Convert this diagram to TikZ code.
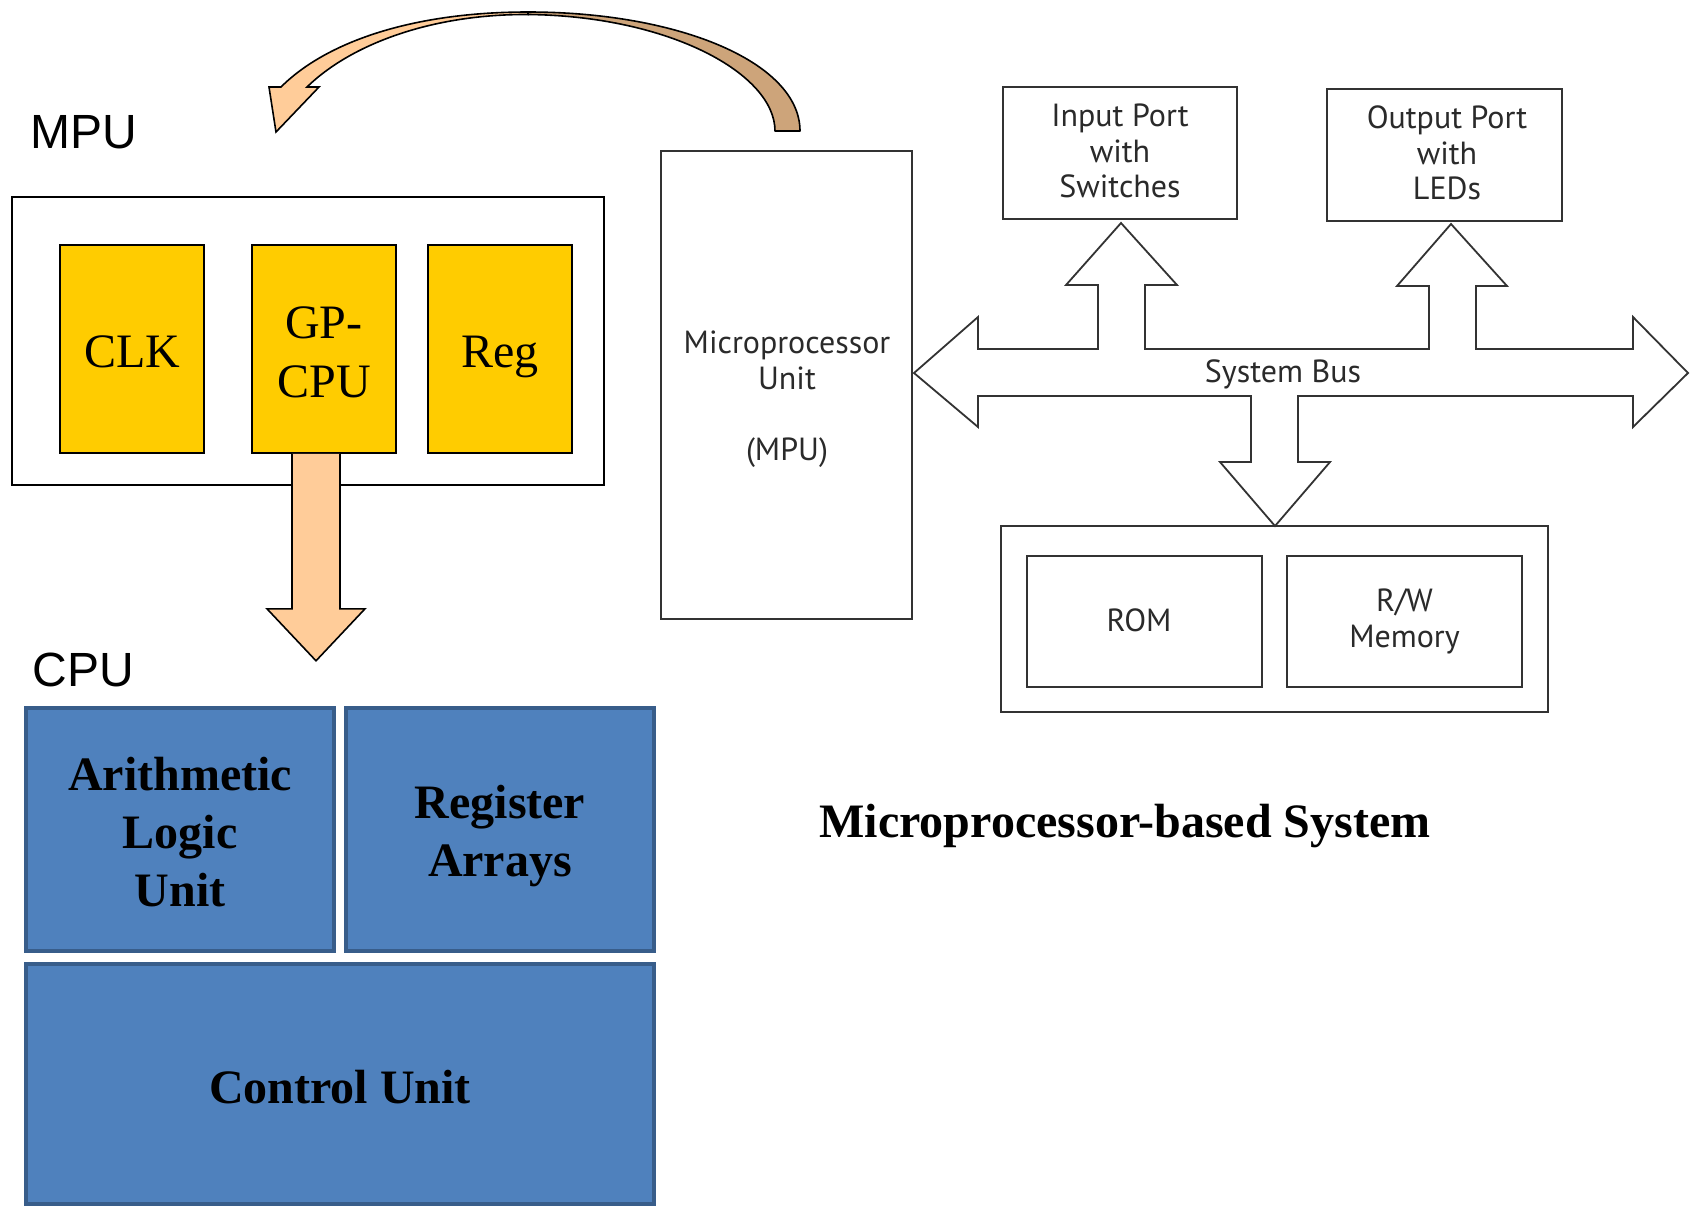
\documentclass[tikz,border=0pt]{standalone}
\usepackage{fontspec}
\setmainfont{Liberation Serif}
\newfontfamily\arialf{Liberation Sans}
\newfontfamily\myriad{PT Sans}
\usetikzlibrary{calc}
\definecolor{gold}{HTML}{FFCC00}
\definecolor{peach}{HTML}{FFCC99}
\definecolor{tanc}{HTML}{CDA47A}
\definecolor{bfill}{HTML}{4F81BD}
\definecolor{bedge}{HTML}{385D8A}
\definecolor{gline}{HTML}{333333}
\definecolor{gtext}{HTML}{2A2A2A}
\begin{document}
\begin{tikzpicture}[x=0.5pt,y=-0.5pt,
  ybox/.style={draw=black, line width=0.8pt, fill=gold, minimum width=72pt, minimum height=104pt, inner sep=0pt},
  ytext/.style={inner sep=0pt, align=center, font=\fontsize{24}{29.5}\selectfont},
  bbox/.style={draw=bedge, line width=1.8pt, fill=bfill, inner sep=0pt},
  btext/.style={inner sep=0pt, align=center, font=\fontsize{24}{29}\selectfont\bfseries},
  wbox/.style={draw=gline, line width=0.9pt, inner sep=0pt, align=center, font=\myriad\fontsize{16}{17.75}\selectfont, text=gtext},
  wtext/.style={inner sep=0pt, align=center, font=\myriad\fontsize{16}{17.75}\selectfont, text=gtext},
  lbl/.style={font=\arialf\fontsize{24}{28}\selectfont, inner sep=0pt, anchor=base west},
  blockarrow/.style={draw=black, line width=0.8pt, line join=miter},
  busarrow/.style={draw=gline, line width=0.9pt, fill=white, line join=miter},
]
\useasboundingbox (0,0) rectangle (1697,1205);

% ---------- left: MPU ----------
\node[lbl] (mpulbl) at (30,148) {MPU};
\node[draw=black, line width=0.8pt, minimum width=296pt, minimum height=144pt, inner sep=0pt] (mpuouter) at (308,341) {};
\node[ybox] (clk) at (132,349) {};
\node[ybox] (gp) at (324,349) {};
\node[ybox] (reg) at (500,349) {};
\node[ytext, anchor=base] (clkt) at (132,367) {CLK};
\node[ytext] (gpt) at (324,352) {GP-\\CPU};
\node[ytext, anchor=base] (regt) at (500,367) {Reg};

% down arrow GP-CPU -> CPU
\draw[blockarrow, fill=peach]
  ($(gp.south)+(-32,0)$) -- ($(gp.south)+(-32,155)$) -- ($(gp.south)+(-57,155)$)
  -- ($(gp.south)+(-8,207)$) -- ($(gp.south)+(41,155)$) -- ($(gp.south)+(16,155)$)
  -- ($(gp.south)+(16,0)$);

% ---------- left: CPU ----------
\node[lbl] (cpulbl) at (32,686) {CPU};
\node[bbox, minimum width=154pt, minimum height=121.5pt] (alu) at (180,829.5) {};
\node[bbox, minimum width=154pt, minimum height=121.5pt] (ra) at (500,829.5) {};
\node[bbox, minimum width=314pt, minimum height=120pt] (cu) at (340,1084) {};
\node[btext] (alut) at (180,832) {Arithmetic\\Logic\\Unit};
\node[btext] (rat) at (500,836) {Register\\Arrays};
\node[btext] (cut) at (340,1087) {Control Unit};

% ---------- curved arrow ----------
\draw[line width=0.8pt, fill=tanc, line join=round]
  (528,12) .. controls (680,12) and (800,63) .. (800,131) -- (775,131)
  .. controls (775,74) and (670,16) .. (528,14.5) -- cycle;
\draw[line width=0.8pt, fill=peach, line join=miter]
  (528,12) .. controls (410,12) and (325,43) .. (281,87) -- (269,87) -- (276,132)
  -- (319,87) -- (307,87) .. controls (350,45) and (430,14) .. (528,14.5) -- cycle;

% ---------- right: microprocessor-based system ----------
\node[wbox, minimum width=125.5pt, minimum height=234pt] (mpu) at (786.5,385) {};
\node[wtext] (mputext) at (787,399) {Microprocessor\\Unit\\[17.75pt](MPU)};

\node[wbox, minimum width=117pt, minimum height=66pt] (inp) at (1120,153) {};
\node[wtext] (inpt) at (1120,151) {Input Port\\with\\Switches};
\node[wbox, minimum width=117.5pt, minimum height=66pt] (outp) at (1444.5,155) {};
\node[wtext] (outpt) at (1447,153) {Output Port\\with\\LEDs};

\node[wbox, minimum width=273.5pt, minimum height=93pt] (mem) at (1274.5,619) {};
\node[wbox, minimum width=117.5pt, minimum height=65.5pt] (rom) at (1144.5,621.5) {};
\node[wtext] (romt) at (1139,620) {ROM};
\node[wbox, minimum width=117.5pt, minimum height=65.5pt] (rw) at (1404.5,621.5) {R/W\\Memory};

% system bus
\draw[busarrow]
  (914,373) -- (978,317) -- (978,349) -- (1098,349) -- (1098,285) -- (1066,285)
  -- (1121,223) -- (1177,285) -- (1145,285) -- (1145,349) -- (1429,349) -- (1429,286)
  -- (1397,286) -- (1451,224) -- (1507,286) -- (1476,286) -- (1476,349) -- (1633,349)
  -- (1633,317) -- (1688,373) -- (1633,427) -- (1633,396) -- (1298,396) -- (1298,462)
  -- (1330,462) -- (1275,526) -- (1220,462) -- (1251,462) -- (1251,396) -- (978,396)
  -- (978,427) -- cycle;
\node[wtext, anchor=base] (bus) at (1283,382) {System Bus};

% title
\node[inner sep=0pt, anchor=base, font=\fontsize{24}{29}\selectfont\bfseries] (title) at (1125,837) {Microprocessor-based System};
\end{tikzpicture}
\end{document}
